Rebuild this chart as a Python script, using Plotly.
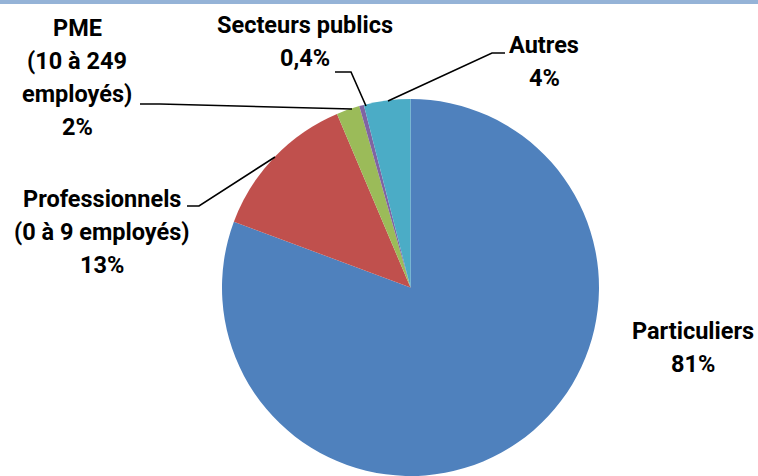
import plotly.graph_objects as go

W, H = 758, 476

# Customer segments, clockwise from 12 o'clock
segments = ["Particuliers", "Professionnels", "PME", "Secteurs publics", "Autres"]
name_lines = [
    ["Particuliers"],
    ["Professionnels", "(0 à 9 employés)"],
    ["PME", "(10 à 249", "employés)"],
    ["Secteurs publics"],
    ["Autres"],
]
shares = [81, 13, 2, 0.4, 4]
colors = ["#4F81BD", "#C0504D", "#9BBB59", "#8064A2", "#4BACC6"]

# Label placement (centre x, first line y) in pixels, and leader lines
label_pos = [(693, 331), (102, 199), (77, 28), (305, 25), (544, 45)]
leaders = [
    None,
    [(187, 206), (199, 206), (275, 157)],
    [(140, 104), (160, 104), (352, 109)],
    [(335, 72), (351, 72), (366, 106)],
    [(505, 53), (492, 53), (388, 101)],
]
LINE_STEP = 33.0


def pct_text(v):
    return f"{v:g}".replace(".", ",") + "%"


fig = go.Figure()
fig.add_trace(go.Pie(
    labels=segments,
    values=shares,
    sort=False,
    direction="clockwise",
    rotation=0,
    marker=dict(colors=colors, line=dict(width=0)),
    textinfo="none",
    hoverinfo="label+percent",
    showlegend=False,
    domain=dict(x=[221 / W, 600 / W], y=[0, 1 - 99 / H]),
))

font = dict(family="Roboto, Carlito, Calibri, sans-serif", size=23.5, color="#000000")
annotations = []
for lines, v, (cx, cy) in zip(name_lines, shares, label_pos):
    for i, txt in enumerate(lines + [pct_text(v)]):
        annotations.append(dict(
            x=cx, y=cy + i * LINE_STEP, xref="x", yref="y",
            text=f"<b>{txt}</b>", showarrow=False, font=font,
            xanchor="center", yanchor="middle",
        ))

shapes = [dict(type="rect", xref="paper", yref="paper", x0=0, x1=1,
               y0=1 - 4 / H, y1=1, fillcolor="#95B3D7", line=dict(width=0))]
for pts in leaders:
    if not pts:
        continue
    path = "M " + " L ".join(f"{x},{y}" for x, y in pts)
    shapes.append(dict(type="path", xref="x", yref="y", path=path,
                       line=dict(color="#000000", width=1.6)))

fig.update_layout(
    width=W, height=H,
    margin=dict(l=0, r=0, t=0, b=0),
    paper_bgcolor="#FFFFFF", plot_bgcolor="rgba(0,0,0,0)",
    xaxis=dict(range=[0, W], visible=False, fixedrange=True),
    yaxis=dict(range=[H, 0], visible=False, fixedrange=True),
    annotations=annotations,
    shapes=shapes,
)

fig.write_html("out.html")
